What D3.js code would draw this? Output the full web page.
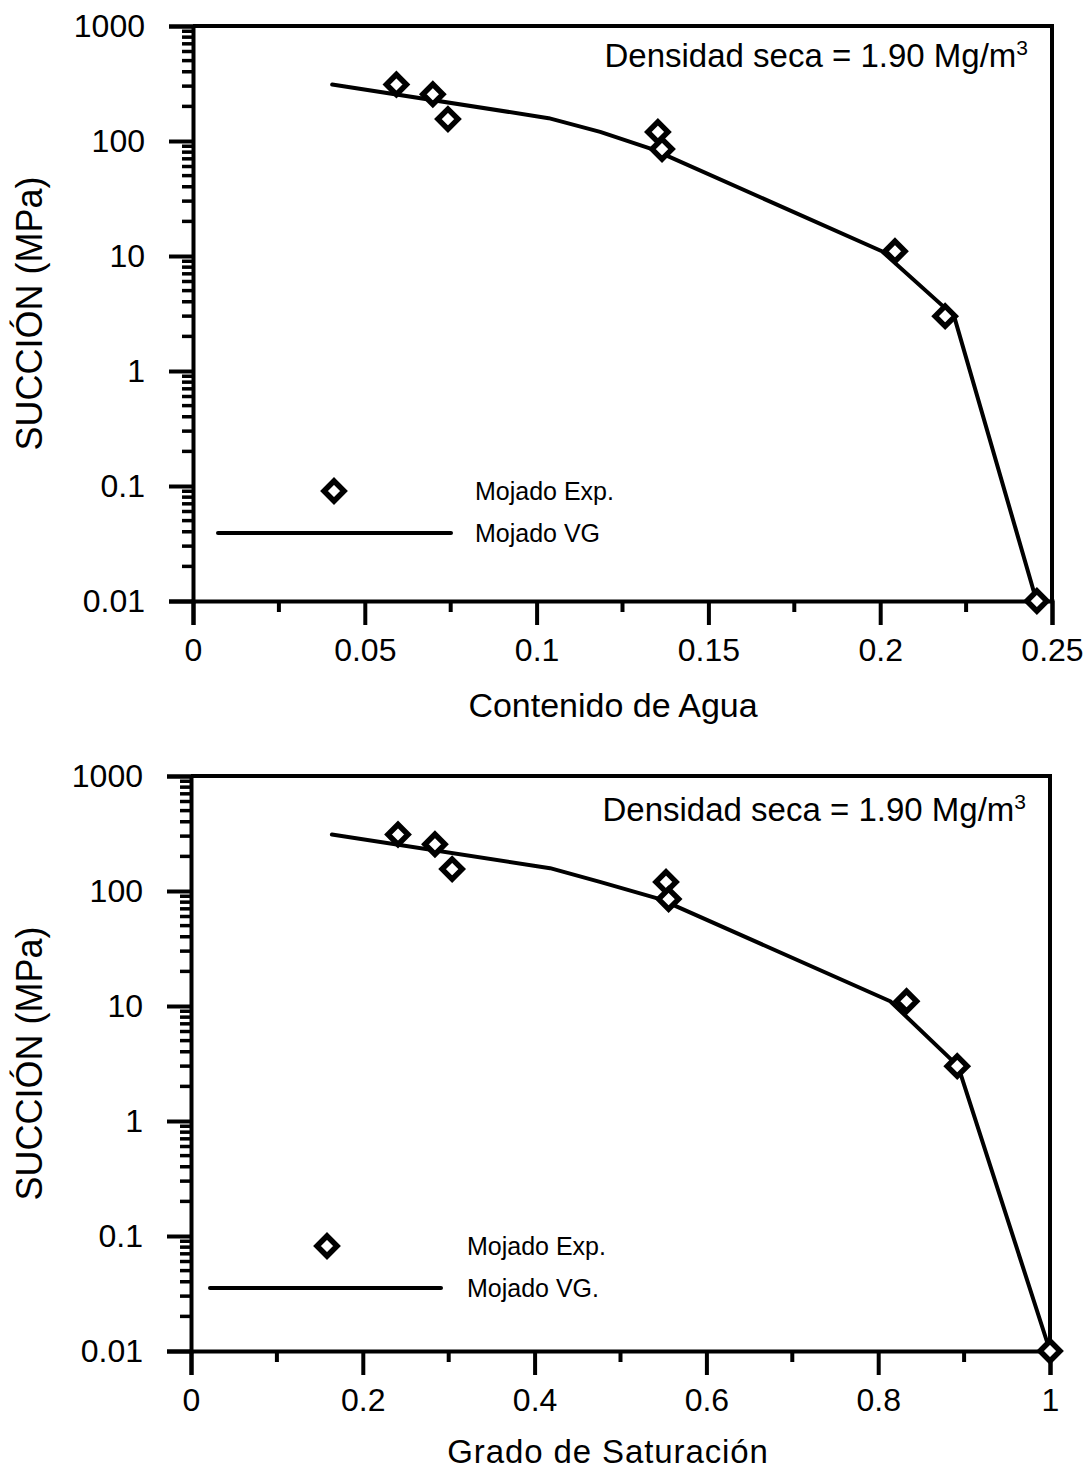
<!DOCTYPE html>
<html>
<head>
<meta charset="utf-8">
<script src="https://cdn.jsdelivr.net/npm/d3@7"></script>
<style>
  html, body { margin: 0; padding: 0; background: #fff; }
  svg { display: block; font-family: "Liberation Sans", Arial, sans-serif; }
</style>
</head>
<body>
<svg id="chart" width="1090" height="1472"></svg>
<script>
// Suction (MPa) measured on wetting
const expSuction = [310, 255, 155, 120, 85, 11, 3, 0.01];
// Water content for each measured suction
const expWater = [0.0592, 0.0698, 0.0742, 0.1353, 0.1365, 0.2043, 0.2189, 0.2456];
// Degree of saturation for each measured suction
const expSat = [0.241, 0.284, 0.304, 0.553, 0.556, 0.833, 0.892, 1.0];

// Van Genuchten fit (wetting)
const vgSuction = [310, 158, 120, 85, 11, 3, 0.01];
const vgWater = [0.0405, 0.1035, 0.1185, 0.1336, 0.2005, 0.2215, 0.2455];
const vgSat = [0.164, 0.418, 0.476, 0.546, 0.814, 0.893, 1.0];

const yTickValues = [0.01, 0.1, 1, 10, 100, 1000];
const yTickLabels = ["0.01", "0.1", "1", "10", "100", "1000"];
const xTicksWater = [0, 0.05, 0.1, 0.15, 0.2, 0.25];
const xTickLabelsWater = ["0", "0.05", "0.1", "0.15", "0.2", "0.25"];
const xTicksSat = [0, 0.2, 0.4, 0.6, 0.8, 1];
const xTickLabelsSat = ["0", "0.2", "0.4", "0.6", "0.8", "1"];

const svg = d3.select("#chart");
const FONT = "Liberation Sans, Arial, sans-serif";

function panel(cfg) {
  const g = svg.append("g");
  const x = d3.scaleLinear().domain(cfg.xDomain).range([cfg.left, cfg.right]);
  const y = d3.scaleLog().domain([0.01, 1000]).range([cfg.bottom, cfg.top]);
  const sw = 4;

  // frame: top and right borders
  g.append("path")
    .attr("d", `M${cfg.left},${cfg.top}H${cfg.right}V${cfg.bottom}`)
    .attr("fill", "none").attr("stroke", "#000").attr("stroke-width", sw);

  // y axis with log minor ticks pointing outward
  const minor = [];
  for (let e = -2; e < 3; e++) for (let k = 2; k <= 9; k++) minor.push(k * Math.pow(10, e));
  const yAxis = d3.axisLeft(y).tickValues(yTickValues)
    .tickFormat((d, i) => yTickLabels[i]).tickSize(24).tickPadding(24);
  const ya = g.append("g").attr("transform", `translate(${cfg.left},0)`).call(yAxis);
  ya.select(".domain").attr("stroke-width", sw);
  ya.selectAll(".tick line").attr("stroke-width", sw);
  ya.selectAll(".tick text").attr("font-size", 32).attr("font-family", FONT).attr("fill", "#000");
  g.append("g").selectAll("line").data(minor).join("line")
    .attr("x1", cfg.left - 11).attr("x2", cfg.left)
    .attr("y1", d => y(d)).attr("y2", d => y(d))
    .attr("stroke", "#000").attr("stroke-width", 3.5);

  // x axis
  const xAxis = d3.axisBottom(x).tickValues(cfg.xTicks)
    .tickFormat((d, i) => cfg.xLabels[i]).tickSize(24).tickPadding(13);
  const xa = g.append("g").attr("transform", `translate(0,${cfg.bottom})`).call(xAxis);
  xa.select(".domain").attr("stroke-width", sw);
  xa.selectAll(".tick line").attr("stroke-width", sw);
  xa.selectAll(".tick text").attr("font-size", 32).attr("font-family", FONT).attr("fill", "#000");
  g.append("g").selectAll("line").data(cfg.xMinor).join("line")
    .attr("x1", d => x(d)).attr("x2", d => x(d))
    .attr("y1", cfg.bottom).attr("y2", cfg.bottom + 11)
    .attr("stroke", "#000").attr("stroke-width", 4);

  // fitted curve
  const line = d3.line().x(d => x(d[0])).y(d => y(d[1]));
  g.append("path")
    .datum(cfg.vgX.map((v, i) => [v, vgSuction[i]]))
    .attr("d", line).attr("fill", "none").attr("stroke", "#000")
    .attr("stroke-width", 4).attr("stroke-linecap", "round").attr("stroke-linejoin", "round");

  // measured points: open diamonds
  const diamond = "M0,-10L10,0L0,10L-10,0Z";
  g.append("g").selectAll("path").data(cfg.expX.map((v, i) => [v, expSuction[i]])).join("path")
    .attr("transform", d => `translate(${x(d[0])},${y(d[1])})`)
    .attr("d", diamond).attr("fill", "#fff").attr("stroke", "#000").attr("stroke-width", 5.5);

  // legend
  g.append("path").attr("transform", `translate(${cfg.legMarkerX},${cfg.legY1})`)
    .attr("d", diamond).attr("fill", "#fff").attr("stroke", "#000").attr("stroke-width", 5.5);
  g.append("line").attr("x1", cfg.legLineX1).attr("x2", cfg.legLineX2)
    .attr("y1", cfg.legY2).attr("y2", cfg.legY2)
    .attr("stroke", "#000").attr("stroke-width", 4).attr("stroke-linecap", "round");
  g.append("text").attr("x", cfg.legTextX).attr("y", cfg.legY1).attr("dy", "0.35em")
    .attr("font-size", 25).text("Mojado Exp.");
  g.append("text").attr("x", cfg.legTextX).attr("y", cfg.legY2).attr("dy", "0.35em")
    .attr("font-size", 25).text(cfg.vgLabel);

  // dry density note
  const note = g.append("text").attr("x", cfg.right - 24).attr("y", cfg.top + cfg.noteDy)
    .attr("text-anchor", "end").attr("font-size", 33);
  note.append("tspan").text("Densidad seca = 1.90 Mg/m");
  note.append("tspan").attr("font-size", 21).attr("dy", -12).text("3");

  // axis titles
  g.append("text").attr("x", cfg.titleX).attr("y", cfg.bottom + cfg.titleDy)
    .attr("text-anchor", "middle").attr("font-size", cfg.titleSize)
    .attr("letter-spacing", cfg.titleSpacing).text(cfg.xTitle);
  g.append("text")
    .attr("transform", `translate(42,${(cfg.top + cfg.bottom) / 2}) rotate(-90)`)
    .attr("text-anchor", "middle").attr("font-size", 36).text("SUCCIÓN (MPa)");
}

panel({
  left: 193, right: 1052, top: 26, bottom: 601,
  xDomain: [0, 0.25], xTicks: xTicksWater, xLabels: xTickLabelsWater,
  xMinor: [0.025, 0.075, 0.125, 0.175, 0.225],
  expX: expWater, vgX: vgWater, vgLabel: "Mojado VG",
  xTitle: "Contenido de Agua", titleX: 613, titleDy: 116, titleSize: 34, titleSpacing: 0, noteDy: 41,
  legMarkerX: 334, legY1: 491, legY2: 533, legLineX1: 218, legLineX2: 451, legTextX: 475
});

panel({
  left: 191, right: 1050, top: 776, bottom: 1351,
  xDomain: [0, 1], xTicks: xTicksSat, xLabels: xTickLabelsSat,
  xMinor: [0.1, 0.3, 0.5, 0.7, 0.9],
  expX: expSat, vgX: vgSat, vgLabel: "Mojado VG.",
  xTitle: "Grado de Saturación", titleX: 608, titleDy: 112, titleSize: 33, titleSpacing: 0.9, noteDy: 45,
  legMarkerX: 327, legY1: 1246, legY2: 1288, legLineX1: 210, legLineX2: 441, legTextX: 467
});
</script>
</body>
</html>
